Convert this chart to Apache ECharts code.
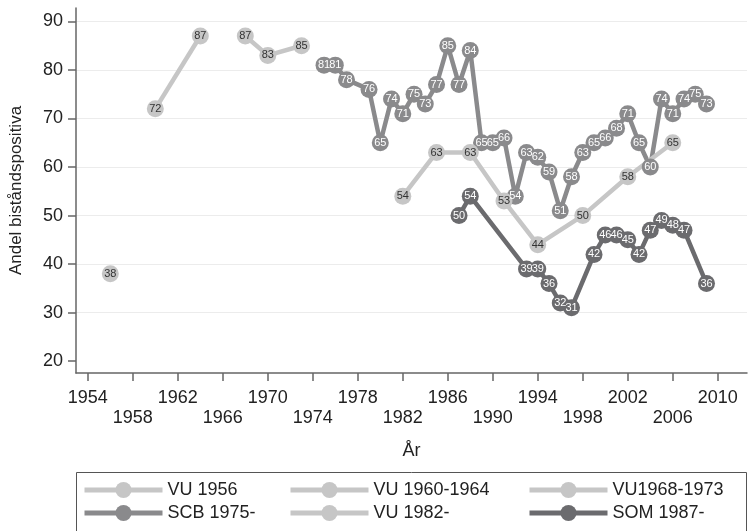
<!DOCTYPE html>
<html>
<head>
<meta charset="utf-8">
<script src="https://cdn.jsdelivr.net/npm/echarts@6/dist/echarts.min.js"></script>
<style>
  html, body { margin: 0; padding: 0; background: #fff; }
  #chart { width: 748px; height: 531px; }
</style>
</head>
<body>
<div id="chart"></div>
<script>
// Data
const vu1956Years = [1956];
const vu1956Vals = [38];
const vu6064Years = [1960, 1964];
const vu6064Vals = [72, 87];
const vu6873Years = [1968, 1970, 1973];
const vu6873Vals = [87, 83, 85];
const scbYears = [1975, 1976, 1977, 1979, 1980, 1981, 1982, 1983, 1984, 1985, 1986, 1987, 1988, 1989, 1990,
    1991, 1992, 1993, 1994, 1995, 1996, 1997, 1998, 1999, 2000, 2001, 2002, 2003, 2004, 2005, 2006, 2007, 2008, 2009];
const scbVals = [81, 81, 78, 76, 65, 74, 71, 75, 73, 77, 85, 77, 84, 65, 65,
    66, 54, 63, 62, 59, 51, 58, 63, 65, 66, 68, 71, 65, 60, 74, 71, 74, 75, 73];
const vu82Years = [1982, 1985, 1988, 1991, 1994, 1998, 2002, 2006];
const vu82Vals = [54, 63, 63, 53, 44, 50, 58, 65];
const somYears = [1987, 1988, 1993, 1994, 1995, 1996, 1997, 1999, 2000, 2001, 2002, 2003, 2004, 2005, 2006, 2007, 2009];
const somVals = [50, 54, 39, 39, 36, 32, 31, 42, 46, 46, 45, 42, 47, 49, 48, 47, 36];

const xTicks = [1954, 1958, 1962, 1966, 1970, 1974, 1978, 1982, 1986, 1990, 1994, 1998, 2002, 2006, 2010];
const yTicks = [20, 30, 40, 50, 60, 70, 80, 90];

const LIGHT = '#c6c6c6';
const MID = '#8a8a8c';
const DARK = '#6b6b6e';
const FONT = '"Liberation Sans", Arial, sans-serif';

function zip(xs, ys) {
    return xs.map((x, i) => [x, ys[i]]);
}

function makeSeries(name, xs, ys, color, textColor) {
    return {
        name: name,
        type: 'line',
        data: zip(xs, ys),
        symbol: 'circle',
        symbolSize: 17,
        lineStyle: { width: 4.5, color: color },
        itemStyle: { color: color },
        label: {
            show: true,
            position: 'inside',
            fontSize: 11,
            fontFamily: FONT,
            color: textColor,
            formatter: p => p.value[1]
        },
        emphasis: { disabled: true },
        animation: false
    };
}

const chart = echarts.init(document.getElementById('chart'));

function legendCol(left, names) {
    return {
        orient: 'vertical',
        left: left,
        top: 481,
        padding: 0,
        itemWidth: 78,
        itemHeight: 20,
        itemGap: 5,
        data: names,
        selectedMode: false,
        textStyle: { fontSize: 18, fontFamily: FONT, color: '#222' },
        lineStyle: { width: 5 }
    };
}

chart.setOption({
    backgroundColor: '#fff',
    animation: false,
    grid: { left: 66, right: 1, top: 8, height: 365 },
    legend: [
        legendCol(82, ['VU 1956', 'SCB 1975-']),
        legendCol(288, ['VU 1960-1964', 'VU 1982-']),
        legendCol(527, ['VU1968-1973', 'SOM 1987-'])
    ],
    graphic: [{
        type: 'rect',
        shape: { x: 76.5, y: 472.5, width: 670, height: 80 },
        style: { fill: 'none', stroke: '#555', lineWidth: 1 },
        silent: true
    }],
    xAxis: {
        type: 'value',
        min: 1952.95,
        max: 2012.6,
        name: 'År',
        nameLocation: 'middle',
        nameGap: 69,
        nameTextStyle: { fontSize: 18, fontFamily: FONT, color: '#222' },
        axisLine: { show: true, lineStyle: { color: '#666', width: 1.5 } },
        axisTick: { show: true, length: 8, customValues: xTicks, lineStyle: { color: '#666', width: 1.5 } },
        axisLabel: {
            customValues: xTicks,
            margin: 15,
            fontSize: 18,
            lineHeight: 20,
            fontFamily: FONT,
            color: '#222',
            verticalAlign: 'top',
            formatter: v => (((v - 1954) / 4) % 2 === 1 ? '\n' : '') + v
        },
        splitLine: { show: false }
    },
    yAxis: {
        type: 'value',
        min: 17.57,
        max: 92.77,
        name: 'Andel biståndspositiva',
        nameLocation: 'middle',
        nameGap: 51,
        nameTextStyle: { fontSize: 17, fontFamily: FONT, color: '#222' },
        axisLine: { show: true, lineStyle: { color: '#666', width: 1.5 } },
        axisTick: { show: true, length: 8, customValues: yTicks, lineStyle: { color: '#666', width: 1.5 } },
        axisLabel: {
            customValues: yTicks,
            margin: 13,
            fontSize: 18,
            fontFamily: FONT,
            color: '#222'
        },
        splitLine: { show: true, showMinLine: false, lineStyle: { color: '#ececec', width: 1.2 } }
    },
    series: [
        makeSeries('VU 1956', vu1956Years, vu1956Vals, LIGHT, '#333'),
        makeSeries('VU 1960-1964', vu6064Years, vu6064Vals, LIGHT, '#333'),
        makeSeries('VU1968-1973', vu6873Years, vu6873Vals, LIGHT, '#333'),
        makeSeries('SCB 1975-', scbYears, scbVals, MID, '#fff'),
        makeSeries('VU 1982-', vu82Years, vu82Vals, LIGHT, '#333'),
        makeSeries('SOM 1987-', somYears, somVals, DARK, '#fff')
    ]
});
</script>
</body>
</html>
